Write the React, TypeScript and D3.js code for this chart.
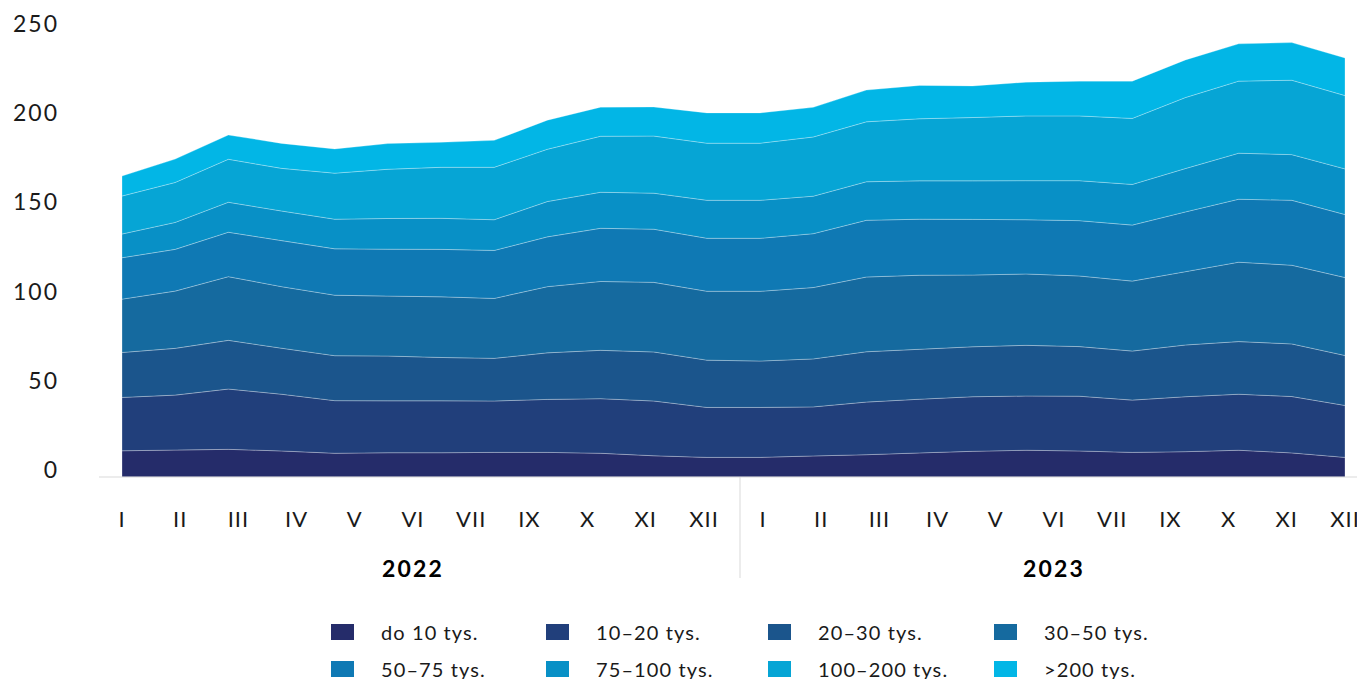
import React from "react";
import * as d3 from "d3";

const months = [
  "2022-I","2022-II","2022-III","2022-IV","2022-V","2022-VI","2022-VII","2022-VIII","2022-IX","2022-X","2022-XI","2022-XII",
  "2023-I","2023-II","2023-III","2023-IV","2023-V","2023-VI","2023-VII","2023-VIII","2023-IX","2023-X","2023-XI","2023-XII",
];

const seriesKeys = ["do 10 tys.", "10–20 tys.", "20–30 tys.", "30–50 tys.", "50–75 tys.", "75–100 tys.", "100–200 tys.", ">200 tys."];

const do10 = [14.7,15.1,15.5,14.6,13.3,13.6,13.6,13.8,13.8,13.3,11.9,11.0,11.0,11.8,12.5,13.5,14.4,15.0,14.6,13.8,14.2,15.0,13.5,11.0];
const s10_20 = [29.9,30.8,33.8,31.8,29.5,29.1,29.1,28.8,29.7,30.6,30.7,28.0,28.0,27.5,29.5,30.1,30.6,30.4,30.7,29.3,30.8,31.4,31.6,29.1];
const s20_30 = [25.2,26.2,27.3,25.8,25.2,25.1,24.3,23.9,26.1,27.1,27.5,26.5,26.0,26.9,28.2,28.0,28.0,28.4,27.8,27.5,29.0,29.5,29.5,28.0];
const s30_50 = [29.9,32.1,35.7,34.5,33.9,33.6,34.0,33.6,37.1,38.6,39.0,38.6,39.1,40.0,41.9,41.5,40.2,40.0,39.6,39.2,41.1,44.5,44.1,43.7];
const s50_75 = [23.2,23.4,24.9,25.8,26.0,26.3,26.6,26.9,27.9,29.8,29.8,29.7,29.7,30.2,31.8,31.4,31.2,30.4,31.0,31.4,33.5,35.3,36.4,35.3];
const s75_100 = [13.3,15.1,16.8,16.6,16.6,17.2,17.4,17.2,19.8,20.2,20.2,21.3,21.3,21.0,21.6,21.5,21.6,21.9,22.4,22.8,24.3,25.8,25.6,25.6];
const s100_200 = [21.3,22.4,24.1,23.9,25.8,27.6,28.6,29.4,29.3,31.4,32.0,32.0,32.0,33.2,33.6,34.8,35.5,36.3,36.3,37.0,39.8,40.4,41.7,41.1];
const s200 = [11.2,13.1,13.6,14.0,13.6,14.4,14.0,15.1,16.3,16.3,16.3,17.0,17.0,16.6,17.8,18.7,17.7,18.9,19.5,20.9,21.1,20.9,21.1,21.1];

const seriesValues = [do10, s10_20, s20_30, s30_50, s50_75, s75_100, s100_200, s200];

const colors = ["#252C6A", "#213F7B", "#1B558C", "#156A9F", "#0F79B4", "#0890C6", "#06A5D5", "#02B6E6"];

const monthLabels = ["I", "II", "III", "IV", "V", "VI", "VII", "IX", "X", "XI", "XII"];
const years = ["2022", "2023"];
const yTicks = [0, 50, 100, 150, 200, 250];

const FONT = "Lato, 'Open Sans', sans-serif";

export default function App() {
  const W = 1357, H = 679;
  const table = months.map((m, i) => {
    const row: any = { month: m };
    seriesKeys.forEach((k, j) => (row[k] = seriesValues[j][i]));
    return row;
  });
  const stacked = d3.stack().keys(seriesKeys)(table);

  const x = d3.scalePoint<string>().domain(months).range([122, 1345]);
  const y = d3.scaleLinear().domain([0, 250]).range([477, 31]);
  const area = d3
    .area<any>()
    .x((d) => x(d.data.month) as number)
    .y0((d) => y(d[0]))
    .y1((d) => y(d[1]));

  const labelScales = [
    d3.scalePoint<string>().domain(monthLabels).range([122, 704]),
    d3.scalePoint<string>().domain(monthLabels).range([763, 1345]),
  ];

  const legendCols = [331, 546, 768, 994];
  const legendRows = [624, 661];

  return (
    <div style={{ position: "absolute", left: 0, top: 0 }}>
      <svg width={W} height={H} style={{ display: "block", background: "#fff" }}>
        {stacked.map((s, i) => (
          <path key={i} d={area(s as any) || ""} fill={colors[i]} stroke="rgba(255,255,255,0.35)" strokeWidth={0.8} />
        ))}
        <line x1={99} x2={1357} y1={y(0)} y2={y(0)} stroke="#d9d9d9" strokeWidth={1} />
        <line x1={740} x2={740} y1={y(0)} y2={578} stroke="#d9d9d9" strokeWidth={1} />
        {yTicks.map((t) => (
          <text key={t} x={59} y={y(t) - 8} textAnchor="end" dominantBaseline="central" fontFamily={FONT} fontSize={23} letterSpacing={2} fill="#1a1a1a">
            {t}
          </text>
        ))}
        {labelScales.map((sc, yi) =>
          monthLabels.map((m) => (
            <text key={yi + m} x={sc(m) as number} y={518} textAnchor="middle" dominantBaseline="central" fontFamily={FONT} fontSize={22} letterSpacing={1} fill="#1a1a1a">
              {m}
            </text>
          ))
        )}
        {years.map((yr, yi) => {
          const r = labelScales[yi].range();
          return (
            <text key={yr} x={(r[0] + r[1]) / 2} y={568} textAnchor="middle" dominantBaseline="central" fontFamily={FONT} fontSize={23} fontWeight={700} letterSpacing={2.2} fill="#000">
              {yr}
            </text>
          );
        })}
        {seriesKeys.map((k, i) => {
          const cx = legendCols[i % 4];
          const cy = legendRows[Math.floor(i / 4)];
          return (
            <g key={k}>
              <rect x={cx} y={cy} width={23} height={16} fill={colors[i]} />
              <text x={cx + 50} y={cy + 8} dominantBaseline="central" fontFamily={FONT} fontSize={20} letterSpacing={1.1} fill="#1a1a1a">
                {k}
              </text>
            </g>
          );
        })}
      </svg>
    </div>
  );
}
